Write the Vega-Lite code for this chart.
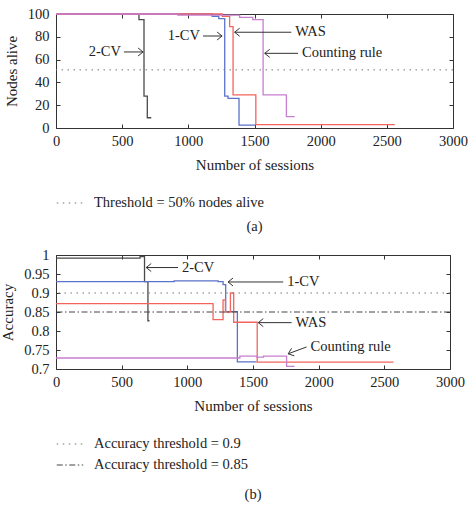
{
  "$schema": "https://vega.github.io/schema/vega-lite/v6.json",
  "padding": {"left": 0, "top": 5, "right": 8, "bottom": 0},
  "background": "white",
  "datasets": {
    "alive": [
      {"series": "2-CV", "sessions": 0, "alive": 100},
      {"series": "2-CV", "sessions": 627, "alive": 95},
      {"series": "2-CV", "sessions": 665, "alive": 28},
      {"series": "2-CV", "sessions": 690, "alive": 9},
      {"series": "2-CV", "sessions": 720, "alive": 9},
      {"series": "1-CV", "sessions": 0, "alive": 100},
      {"series": "1-CV", "sessions": 1180, "alive": 98},
      {"series": "1-CV", "sessions": 1230, "alive": 96},
      {"series": "1-CV", "sessions": 1275, "alive": 28},
      {"series": "1-CV", "sessions": 1300, "alive": 26},
      {"series": "1-CV", "sessions": 1383, "alive": 2.5},
      {"series": "1-CV", "sessions": 1505, "alive": 2.5},
      {"series": "WAS", "sessions": 0, "alive": 100},
      {"series": "WAS", "sessions": 1257, "alive": 98},
      {"series": "WAS", "sessions": 1312, "alive": 89},
      {"series": "WAS", "sessions": 1338, "alive": 29},
      {"series": "WAS", "sessions": 1510, "alive": 3},
      {"series": "WAS", "sessions": 2560, "alive": 3},
      {"series": "Counting rule", "sessions": 0, "alive": 100},
      {"series": "Counting rule", "sessions": 920, "alive": 99},
      {"series": "Counting rule", "sessions": 1388, "alive": 97},
      {"series": "Counting rule", "sessions": 1487, "alive": 95},
      {"series": "Counting rule", "sessions": 1565, "alive": 29},
      {"series": "Counting rule", "sessions": 1741, "alive": 10},
      {"series": "Counting rule", "sessions": 1804, "alive": 10}
    ],
    "alive_threshold": [
      {"label": "Threshold = 50% nodes alive", "alive": 51}
    ],
    "alive_notes": [
      {"label": "2-CV", "pointing": "right", "tail_x": 513, "tail_y": 66.7, "head_x": 658, "head_y": 66.7},
      {"label": "1-CV", "pointing": "right", "tail_x": 1111, "tail_y": 80.7, "head_x": 1255, "head_y": 80.7},
      {"label": "WAS", "pointing": "left", "tail_x": 1778, "tail_y": 84, "head_x": 1350, "head_y": 84},
      {"label": "Counting rule", "pointing": "left", "tail_x": 1829, "tail_y": 65.5, "head_x": 1577, "head_y": 65.5}
    ],
    "accuracy": [
      {"series": "2-CV", "sessions": 0, "acc": 0.992},
      {"series": "2-CV", "sessions": 640, "acc": 0.996},
      {"series": "2-CV", "sessions": 674, "acc": 0.93},
      {"series": "2-CV", "sessions": 700, "acc": 0.827},
      {"series": "2-CV", "sessions": 712, "acc": 0.827},
      {"series": "1-CV", "sessions": 0, "acc": 0.93},
      {"series": "1-CV", "sessions": 900, "acc": 0.932},
      {"series": "1-CV", "sessions": 1234, "acc": 0.93},
      {"series": "1-CV", "sessions": 1272, "acc": 0.922},
      {"series": "1-CV", "sessions": 1292, "acc": 0.851},
      {"series": "1-CV", "sessions": 1381, "acc": 0.719},
      {"series": "1-CV", "sessions": 1527, "acc": 0.719},
      {"series": "WAS", "sessions": 0, "acc": 0.872},
      {"series": "WAS", "sessions": 1196, "acc": 0.83},
      {"series": "WAS", "sessions": 1272, "acc": 0.882},
      {"series": "WAS", "sessions": 1290, "acc": 0.85},
      {"series": "WAS", "sessions": 1328, "acc": 0.9},
      {"series": "WAS", "sessions": 1353, "acc": 0.823},
      {"series": "WAS", "sessions": 1532, "acc": 0.718},
      {"series": "WAS", "sessions": 2570, "acc": 0.718},
      {"series": "Counting rule", "sessions": 0, "acc": 0.729},
      {"series": "Counting rule", "sessions": 1400, "acc": 0.734},
      {"series": "Counting rule", "sessions": 1527, "acc": 0.731},
      {"series": "Counting rule", "sessions": 1580, "acc": 0.734},
      {"series": "Counting rule", "sessions": 1756, "acc": 0.707},
      {"series": "Counting rule", "sessions": 1817, "acc": 0.707}
    ],
    "acc_threshold": [
      {"label": "Accuracy threshold = 0.9", "acc": 0.9},
      {"label": "Accuracy threshold = 0.85", "acc": 0.85}
    ],
    "acc_notes": [
      {"label": "2-CV", "pointing": "left", "tail_x": 929, "tail_y": 0.967, "head_x": 687, "head_y": 0.967},
      {"label": "1-CV", "pointing": "left", "tail_x": 1730, "tail_y": 0.929, "head_x": 1310, "head_y": 0.929},
      {"label": "WAS", "pointing": "left", "tail_x": 1794, "tail_y": 0.822, "head_x": 1540, "head_y": 0.822},
      {"label": "Counting rule", "pointing": "down-left", "tail_x": 1908, "tail_y": 0.758, "head_x": 1768, "head_y": 0.74}
    ]
  },
  "vconcat": [
    {
      "width": 397,
      "height": 114,
      "title": {"text": "(a)", "offset": 10},
      "layer": [
        {
          "data": {"name": "alive"},
          "mark": {"type": "line", "interpolate": "step-after", "strokeWidth": 1.3},
          "encoding": {
            "x": {"field": "sessions", "type": "quantitative", "scale": {"domain": [0, 3000], "nice": false},
                  "axis": {"title": "Number of sessions", "values": [0, 500, 1000, 1500, 2000, 2500, 3000], "format": "d"}},
            "y": {"field": "alive", "type": "quantitative", "scale": {"domain": [0, 100], "nice": false},
                  "axis": {"title": "Nodes alive", "values": [0, 20, 40, 60, 80, 100], "labelPadding": 11, "titlePadding": 8}},
            "color": {"field": "series", "type": "nominal",
                      "scale": {"domain": ["2-CV", "1-CV", "WAS", "Counting rule"], "range": ["#4a4a4a", "#5b73c9", "#f2645c", "#c77fd0"]},
                      "legend": null}
          }
        },
        {
          "data": {"name": "alive_threshold"},
          "mark": {"type": "rule", "strokeWidth": 1},
          "encoding": {
            "y": {"field": "alive", "type": "quantitative", "axis": null},
            "stroke": {"field": "label", "type": "nominal", "scale": {"range": ["#777777"]}, "legend": {"title": null}},
            "strokeDash": {"field": "label", "type": "nominal", "scale": {"range": [[1.5, 4.5]]}, "legend": {"title": null}}
          }
        },
        {
          "data": {"name": "alive_notes"},
          "mark": {"type": "rule", "strokeWidth": 1, "color": "#333333"},
          "encoding": {
            "x": {"field": "tail_x", "type": "quantitative", "axis": {"orient": "top", "labels": false, "title": null, "values": [0, 500, 1000, 1500, 2000, 2500, 3000]}},
            "x2": {"field": "head_x"},
            "y": {"field": "tail_y", "type": "quantitative", "axis": {"orient": "right", "labels": false, "title": null, "values": [0, 20, 40, 60, 80, 100]}},
            "y2": {"field": "head_y"}
          }
        },
        {
          "data": {"name": "alive_notes"},
          "mark": {"type": "point", "filled": false, "size": 100, "color": "#333333", "strokeWidth": 1, "opacity": 1},
          "encoding": {
            "x": {"field": "head_x", "type": "quantitative", "axis": null},
            "y": {"field": "head_y", "type": "quantitative", "axis": null},
            "shape": {"field": "pointing", "type": "nominal",
                      "scale": {"domain": ["right", "left", "down-left"], "range": ["M-1,-0.8L0,0L-1,0.8", "M1,-0.8L0,0L1,0.8", "M0.67,-1.09L0,0L1.21,0.41"]},
                      "legend": null}
          }
        },
        {
          "data": {"name": "alive_notes"},
          "transform": [{"filter": "datum.pointing === 'right'"}],
          "mark": {"type": "text", "align": "right", "baseline": "middle", "dx": -3},
          "encoding": {
            "x": {"field": "tail_x", "type": "quantitative", "axis": null},
            "y": {"field": "tail_y", "type": "quantitative", "axis": null},
            "text": {"field": "label"}
          }
        },
        {
          "data": {"name": "alive_notes"},
          "transform": [{"filter": "datum.pointing !== 'right'"}],
          "mark": {"type": "text", "align": "left", "baseline": "middle", "dx": 4},
          "encoding": {
            "x": {"field": "tail_x", "type": "quantitative", "axis": null},
            "y": {"field": "tail_y", "type": "quantitative", "axis": null},
            "text": {"field": "label"}
          }
        }
      ],
      "resolve": {"axis": {"x": "independent", "y": "independent"}}
    },
    {
      "width": 394,
      "height": 114,
      "title": {"text": "(b)", "offset": 16},
      "layer": [
        {
          "data": {"name": "accuracy"},
          "mark": {"type": "line", "interpolate": "step-after", "strokeWidth": 1.3},
          "encoding": {
            "x": {"field": "sessions", "type": "quantitative", "scale": {"domain": [0, 3000], "nice": false},
                  "axis": {"title": "Number of sessions", "values": [0, 500, 1000, 1500, 2000, 2500, 3000], "format": "d"}},
            "y": {"field": "acc", "type": "quantitative", "scale": {"domain": [0.7, 1], "nice": false, "zero": false},
                  "axis": {"title": "Accuracy", "values": [0.7, 0.75, 0.8, 0.85, 0.9, 0.95, 1], "format": "~g", "labelPadding": 11, "titlePadding": 8}},
            "color": {"field": "series", "type": "nominal",
                      "scale": {"domain": ["2-CV", "1-CV", "WAS", "Counting rule"], "range": ["#4a4a4a", "#5b73c9", "#f2645c", "#c77fd0"]},
                      "legend": null}
          }
        },
        {
          "data": {"name": "acc_threshold"},
          "mark": {"type": "rule", "strokeWidth": 1},
          "encoding": {
            "y": {"field": "acc", "type": "quantitative", "axis": null},
            "stroke": {"field": "label", "type": "nominal", "scale": {"domain": ["Accuracy threshold = 0.9", "Accuracy threshold = 0.85"], "range": ["#777777", "#444444"]}, "legend": {"title": null}},
            "strokeDash": {"field": "label", "type": "nominal", "scale": {"domain": ["Accuracy threshold = 0.9", "Accuracy threshold = 0.85"], "range": [[1.5, 4.5], [6, 2.5, 1.5, 2.5]]}, "legend": {"title": null}}
          }
        },
        {
          "data": {"name": "acc_notes"},
          "mark": {"type": "rule", "strokeWidth": 1, "color": "#333333"},
          "encoding": {
            "x": {"field": "tail_x", "type": "quantitative", "axis": {"orient": "top", "labels": false, "title": null, "values": [0, 500, 1000, 1500, 2000, 2500, 3000]}},
            "x2": {"field": "head_x"},
            "y": {"field": "tail_y", "type": "quantitative", "axis": {"orient": "right", "labels": false, "title": null, "values": [0.7, 0.75, 0.8, 0.85, 0.9, 0.95, 1]}},
            "y2": {"field": "head_y"}
          }
        },
        {
          "data": {"name": "acc_notes"},
          "mark": {"type": "point", "filled": false, "size": 100, "color": "#333333", "strokeWidth": 1, "opacity": 1},
          "encoding": {
            "x": {"field": "head_x", "type": "quantitative", "axis": null},
            "y": {"field": "head_y", "type": "quantitative", "axis": null},
            "shape": {"field": "pointing", "type": "nominal",
                      "scale": {"domain": ["right", "left", "down-left"], "range": ["M-1,-0.8L0,0L-1,0.8", "M1,-0.8L0,0L1,0.8", "M0.67,-1.09L0,0L1.21,0.41"]},
                      "legend": null}
          }
        },
        {
          "data": {"name": "acc_notes"},
          "mark": {"type": "text", "align": "left", "baseline": "middle", "dx": 4},
          "encoding": {
            "x": {"field": "tail_x", "type": "quantitative", "axis": null},
            "y": {"field": "tail_y", "type": "quantitative", "axis": null},
            "text": {"field": "label"}
          }
        }
      ],
      "resolve": {"axis": {"x": "independent", "y": "independent"}}
    }
  ],
  "resolve": {
    "scale": {"x": "independent", "y": "independent", "stroke": "independent", "strokeDash": "independent", "shape": "independent"},
    "legend": {"stroke": "independent", "strokeDash": "independent"}
  },
  "config": {
    "font": "Liberation Serif",
    "view": {"stroke": "#333333", "strokeWidth": 1},
    "concat": {"spacing": 12},
    "axis": {
      "labelFont": "Liberation Serif", "labelFontSize": 14.5, "labelColor": "#222222",
      "titleFont": "Liberation Serif", "titleFontSize": 15, "titleFontWeight": "normal", "titleColor": "#222222",
      "grid": false, "domain": false, "tickSize": -4, "tickColor": "#333333",
      "labelPadding": 10, "titlePadding": 10, "labelFlush": false
    },
    "legend": {
      "orient": "bottom", "direction": "vertical",
      "labelFont": "Liberation Serif", "labelFontSize": 14.5, "labelColor": "#222222", "labelLimit": 0,
      "symbolType": "stroke", "symbolStrokeWidth": 1, "symbolSize": 700,
      "labelOffset": 10, "rowPadding": 0, "offset": 16, "padding": 0
    },
    "title": {"font": "Liberation Serif", "fontSize": 14.5, "fontWeight": "normal", "color": "#222222", "orient": "bottom", "offset": 12},
    "text": {"font": "Liberation Serif", "fontSize": 14.5, "color": "#222222"}
  }
}
